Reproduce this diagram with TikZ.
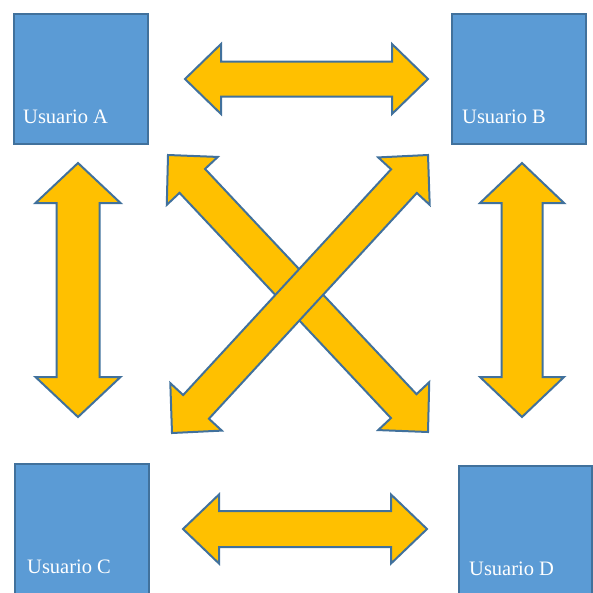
\documentclass[tikz,border=0pt]{standalone}
\usepackage{fontspec}
\setmainfont{Liberation Serif}
\usetikzlibrary{calc}
\definecolor{boxfill}{HTML}{5B9BD5}
\definecolor{boxline}{HTML}{41719C}
\definecolor{arrfill}{HTML}{FFC000}
\tikzset{
  userbox/.style={draw=boxline, fill=boxfill, line width=2pt, inner sep=0pt, anchor=north west},
  usertext/.style={text=white, font=\fontsize{20.5}{24}\selectfont, inner sep=0pt, anchor=base west},
  blockarrow/.style={draw=boxline, fill=arrfill, line width=2pt, line join=miter},
}
% #1 tip a, #2 tip b, #3 head length, #4 head half-width, #5 shaft half-width
\newcommand\blockarrow[5]{%
  \coordinate (#1-h) at ($(#1)!#3pt!(#2)$);
  \coordinate (#2-h) at ($(#2)!#3pt!(#1)$);
  \draw[blockarrow] (#1)
    -- ($(#1-h)!#4pt!90:(#2)$)
    -- ($(#1-h)!#5pt!90:(#2)$)
    -- ($(#2-h)!#5pt!-90:(#1)$)
    -- ($(#2-h)!#4pt!-90:(#1)$)
    -- (#2)
    -- ($(#2-h)!#4pt!90:(#1)$)
    -- ($(#2-h)!#5pt!90:(#1)$)
    -- ($(#1-h)!#5pt!-90:(#2)$)
    -- ($(#1-h)!#4pt!-90:(#2)$)
    -- cycle;
}
\begin{document}
\begin{tikzpicture}[x=1pt, y=-1pt]
  \useasboundingbox (0,0) rectangle (593,592);
  \clip (0,0) rectangle (593,592);
  % user boxes
  \node[userbox, minimum width=134pt, minimum height=130pt] (A) at (13,13) {};
  \node[userbox, minimum width=134pt, minimum height=130pt] (B) at (451,13) {};
  \node[userbox, minimum width=134pt, minimum height=132pt] (C) at (14,463) {};
  \node[userbox, minimum width=133pt, minimum height=132pt] (D) at (458,465) {};
  \node[usertext] (At) at (23,123) {Usuario A};
  \node[usertext] (Bt) at (462,123) {Usuario B};
  \node[usertext] (Ct) at (27,573) {Usuario C};
  \node[usertext] (Dt) at (469,575) {Usuario D};
  % arrow tips
  \coordinate (ab1) at (185,79);  \coordinate (ab2) at (428,79);
  \coordinate (cd1) at (183,529); \coordinate (cd2) at (427,529);
  \coordinate (ac1) at (78,163);  \coordinate (ac2) at (78,417);
  \coordinate (bd1) at (522,163); \coordinate (bd2) at (522,417);
  \coordinate (ad1) at (168,155); \coordinate (ad2) at (428,432);
  \coordinate (cb1) at (172,433); \coordinate (cb2) at (428,155);
  % arrows
  \blockarrow{ab1}{ab2}{36}{35}{17.5}
  \blockarrow{cd1}{cd2}{36}{34.5}{18}
  \blockarrow{ac1}{ac2}{40}{42.5}{21.5}
  \blockarrow{bd1}{bd2}{40}{42}{20.5}
  \blockarrow{ad1}{ad2}{35.5}{35}{17.5}
  \blockarrow{cb1}{cb2}{35.5}{35}{17.5}
\end{tikzpicture}
\end{document}
